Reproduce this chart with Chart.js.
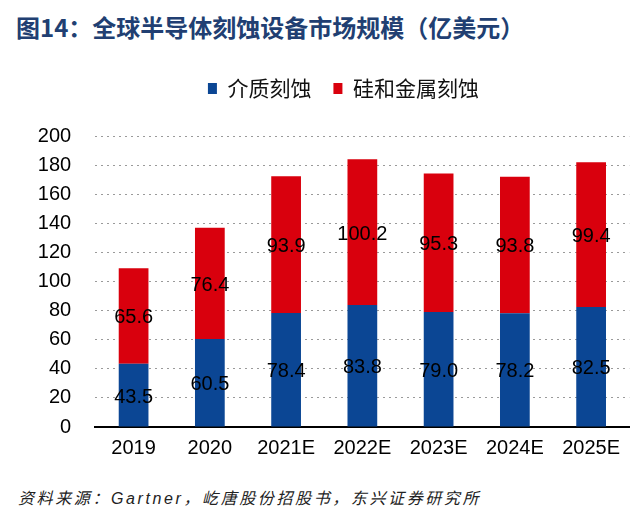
<!DOCTYPE html>
<html>
<head>
<meta charset="utf-8">
<script src="https://cdn.jsdelivr.net/npm/chart.js@4.4.0/dist/chart.umd.min.js"></script>
<style>
  body { margin: 0; background: #fff; width: 640px; height: 519px; position: relative; overflow: hidden; }
  #titulo { position: absolute; left: 16px; top: 9px; font: bold 24px "Noto Sans CJK SC", "Liberation Sans", sans-serif; color: #213f72; white-space: nowrap; }
  #wrap { position: absolute; left: 0; top: 56px; width: 640px; height: 413px; }
  #fuente { position: absolute; left: 18px; top: 485px; font: italic 16px "Liberation Sans", "Noto Sans CJK SC", sans-serif; color: #222; letter-spacing: 2.6px; white-space: nowrap; }
</style>
</head>
<body>
<div id="titulo">图14：全球半导体刻蚀设备市场规模（亿美元）</div>
<div id="wrap"><canvas id="myChart"></canvas></div>
<div id="fuente">资料来源：Gartner，屹唐股份招股书，东兴证券研究所</div>
<script>
const anios = ["2019", "2020", "2021E", "2022E", "2023E", "2024E", "2025E"]
const dielectrico = [43.5, 60.5, 78.4, 83.8, 79.0, 78.2, 82.5]
const silicioMetal = [65.6, 76.4, 93.9, 100.2, 95.3, 93.8, 99.4]
const ejeY = { min: 0, max: 200, paso: 20 }

const azul = "#0b4694"
const rojo = "#d9000d"
const fuenteNum = "'Liberation Sans', Arial, sans-serif"

// etiquetas dentro de cada segmento
const etiquetas = {
    id: "etiquetas",
    afterDatasetsDraw(chart) {
        const ctx = chart.ctx
        ctx.save()
        ctx.font = "20px " + fuenteNum
        ctx.fillStyle = "#000"
        ctx.textAlign = "center"
        ctx.textBaseline = "middle"
        chart.data.datasets.forEach((ds, i) => {
            const meta = chart.getDatasetMeta(i)
            meta.data.forEach((barra, j) => {
                const y = (barra.y + barra.base) / 2
                ctx.fillText(ds.data[j].toFixed(1), barra.x, y + 2)
            })
        })
        ctx.restore()
    }
}

// mas espacio debajo de la leyenda y leyenda un poco a la derecha
const ajusteLeyenda = {
    id: "ajusteLeyenda",
    beforeInit(chart) {
        const fitOriginal = chart.legend.fit
        chart.legend.fit = function () {
            fitOriginal.bind(chart.legend)()
            this.height += 27
        }
    },
    afterLayout(chart) {
        chart.legend.left += 22
        chart.legend.right += 22
    }
}

const config = {
    type: "bar",
    data: {
        labels: anios,
        datasets: [
            {
                label: "介质刻蚀",
                backgroundColor: azul,
                data: dielectrico,
                borderWidth: 0,
                barPercentage: 0.39,
                categoryPercentage: 1
            },
            {
                label: "硅和金属刻蚀",
                backgroundColor: rojo,
                data: silicioMetal,
                borderWidth: 0,
                barPercentage: 0.39,
                categoryPercentage: 1
            }
        ]
    },
    options: {
        responsive: true,
        maintainAspectRatio: false,
        animation: false,
        layout: {
            padding: { left: 13.6, right: 10.75, top: 0, bottom: 0 }
        },
        plugins: {
            legend: {
                position: "top",
                labels: {
                    boxWidth: 9,
                    boxHeight: 11,
                    padding: 22,
                    color: "#111",
                    font: { size: 21, family: "'Noto Sans CJK SC', sans-serif" }
                }
            },
            tooltip: { enabled: false }
        },
        scales: {
            x: {
                stacked: true,
                grid: { display: false, drawTicks: false },
                border: { display: true, color: "#000", width: 2 },
                ticks: {
                    color: "#000",
                    padding: 9,
                    font: { size: 20, family: fuenteNum }
                }
            },
            y: {
                stacked: true,
                min: ejeY.min,
                max: ejeY.max,
                grid: {
                    color: "#9a9a9a",
                    lineWidth: 1,
                    drawTicks: false
                },
                border: { display: false, dash: [2, 4] },
                ticks: {
                    stepSize: ejeY.paso,
                    color: "#000",
                    padding: 24.25,
                    font: { size: 20, family: fuenteNum }
                }
            }
        }
    },
    plugins: [etiquetas, ajusteLeyenda]
}

new Chart(document.getElementById("myChart"), config)
</script>
</body>
</html>
